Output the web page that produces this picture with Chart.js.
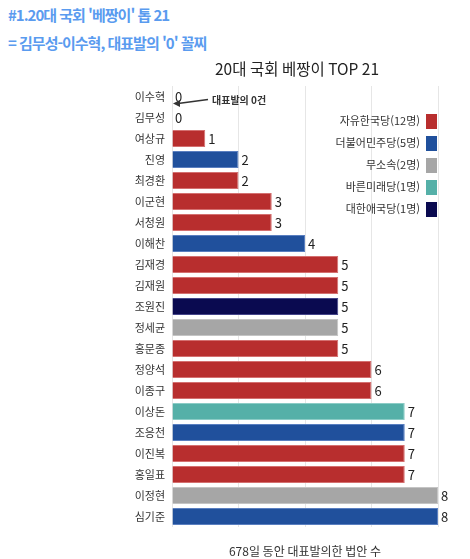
<!DOCTYPE html>
<html lang="ko">
<head>
<meta charset="utf-8">
<script src="https://cdn.jsdelivr.net/npm/chart.js@4"></script>
<style>
  body { margin: 0; background: #fff; }
  #wrap { position: relative; width: 470px; height: 559px; }
  .head {
    position: absolute; left: 8px; margin: 0;
    font-family: 'Noto Sans CJK KR', sans-serif; font-weight: 700;
    font-size: 15px; color: #5a9bef; letter-spacing: -1px;
  }
  canvas { position: absolute; left: 0; top: 0; }
</style>
</head>
<body>
<div id="wrap">
  <p class="head" style="top:4px">#1.20대 국회 '베짱이' 톱 21</p>
  <p class="head" style="top:32px">= 김무성-이수혁, 대표발의 '0' 꼴찌</p>
  <canvas id="chart" width="470" height="559"></canvas>
</div>
<script>
const names = ['이수혁', '김무성', '여상규', '진영', '최경환', '이군현', '서청원', '이해찬',
  '김재경', '김재원', '조원진', '정세균', '홍문종', '정양석', '이종구', '이상돈',
  '조응천', '이진복', '홍일표', '이정현', '심기준'];
const bills = [0, 0, 1, 2, 2, 3, 3, 4, 5, 5, 5, 5, 5, 6, 6, 7, 7, 7, 7, 8, 8];
const memberParty = ['민주', '한국', '한국', '민주', '한국', '한국', '한국', '민주',
  '한국', '한국', '애국', '무소속', '한국', '한국', '한국', '바른',
  '민주', '한국', '한국', '무소속', '민주'];
const partyKeys = ['한국', '민주', '무소속', '바른', '애국'];
const partyLabels = ['자유한국당(12명)', '더불어민주당(5명)', '무소속(2명)', '바른미래당(1명)', '대한애국당(1명)'];
const partyColors = ['#b82e2e', '#20509c', '#a6a6a6', '#55b0a8', '#0a0a50'];
const partyBorders = ['#d47070', '#5a7fc0', '#c4c4c4', '#8cccc6', '#45458a'];

const font = "'Noto Sans CJK KR', sans-serif";

const colorOf = (p) => partyColors[partyKeys.indexOf(p)];
const borderOf = (p) => partyBorders[partyKeys.indexOf(p)];

const extras = {
  id: 'extras',
  afterDatasetsDraw(chart) {
    const { ctx } = chart;
    const meta = chart.getDatasetMeta(0);
    ctx.save();
    ctx.font = '13px ' + font;
    ctx.fillStyle = '#222';
    ctx.textBaseline = 'middle';
    ctx.textAlign = 'left';
    meta.data.forEach((bar, i) => {
      ctx.fillText(String(bills[i]), bar.x + 3, bar.y + 1);
    });

    // title
    ctx.font = '15.5px ' + font;
    ctx.textAlign = 'center';
    ctx.fillStyle = '#222';
    ctx.fillText('20대 국회 베짱이 TOP 21', 297, 69);

    // legend
    ctx.font = '11px ' + font;
    ctx.textAlign = 'right';
    partyLabels.forEach((label, i) => {
      const y = 121 + i * 22;
      ctx.fillStyle = '#333';
      ctx.fillText(label, 420, y);
      ctx.fillStyle = partyColors[i];
      ctx.fillRect(426, y - 7, 11, 15);
    });

    // annotation arrow
    const x0 = meta.data[0].x;
    const y0 = meta.data[0].y;
    ctx.strokeStyle = '#333';
    ctx.fillStyle = '#333';
    ctx.lineWidth = 1.5;
    ctx.beginPath();
    ctx.moveTo(208, y0 + 3);
    ctx.lineTo(x0 + 6, y0 + 7);
    ctx.stroke();
    ctx.beginPath();
    ctx.moveTo(x0 + 1, y0 + 7);
    ctx.lineTo(x0 + 8, y0 + 3.5);
    ctx.lineTo(x0 + 8, y0 + 10.5);
    ctx.closePath();
    ctx.fill();
    ctx.font = 'bold 10px ' + font;
    ctx.textAlign = 'left';
    ctx.fillText('대표발의 0건', 212, y0 + 4);
    ctx.restore();
  },
};

new Chart(document.getElementById('chart'), {
  type: 'bar',
  data: {
    labels: names,
    datasets: [
      {
        data: bills,
        backgroundColor: memberParty.map(colorOf),
        borderColor: memberParty.map(borderOf),
        borderWidth: 1,
        borderSkipped: 'start',
        barPercentage: 0.81,
        categoryPercentage: 1,
      },
    ],
  },
  options: {
    indexAxis: 'y',
    responsive: false,
    animation: false,
    layout: { padding: { left: 112, right: 32, top: 86, bottom: 0 } },
    plugins: {
      legend: { display: false },
      tooltip: { enabled: false },
    },
    scales: {
      x: {
        min: 0,
        max: 8,
        ticks: { stepSize: 2, display: false },
        grid: { color: '#e6e6e6', drawTicks: false },
        border: { display: false },
        title: {
          display: true,
          text: '678일 동안 대표발의한 법안 수',
          color: '#333',
          font: { family: font, size: 12 },
          padding: { top: 5, bottom: 0 },
        },
        afterFit: (s) => { s.height = 32; },
      },
      y: {
        grid: { display: false, drawTicks: false },
        border: { display: false },
        ticks: { color: '#333', font: { family: font, size: 11 }, padding: 7 },
        afterFit: (s) => { s.width = 60; },
      },
    },
  },
  plugins: [extras],
});
</script>
</body>
</html>
